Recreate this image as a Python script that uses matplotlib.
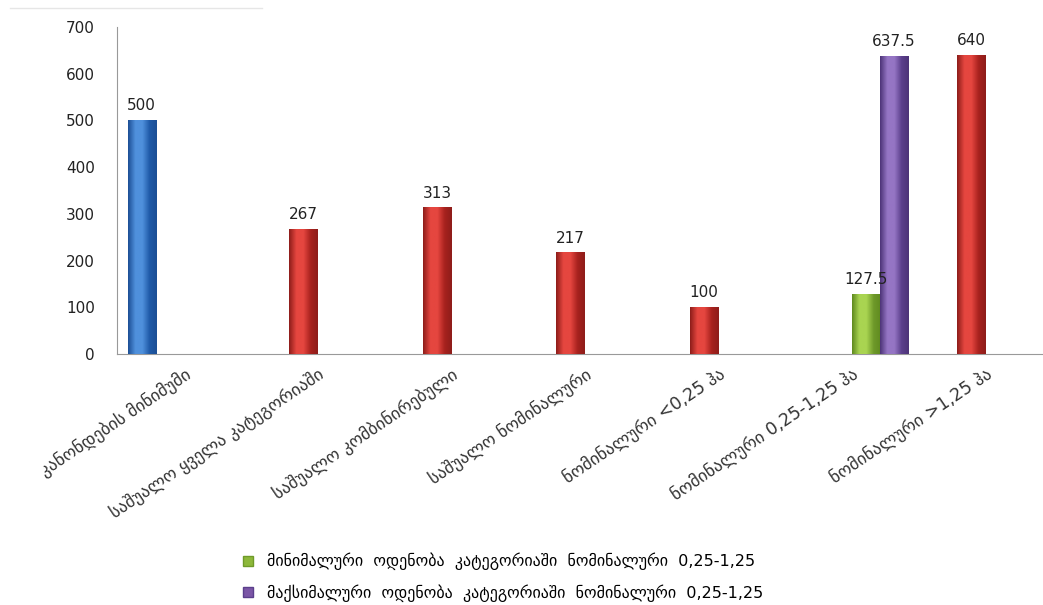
import numpy as np
import matplotlib.pyplot as plt
from matplotlib.colors import LinearSegmentedColormap
from matplotlib.lines import Line2D

categories = [
    "კანონდების მინიმუმი",
    "საშუალო ყველა კატეგორიაში",
    "საშუალო კომბინირებული",
    "საშუალო ნომინალური",
    "ნომინალური <0,25 ჰა",
    "ნომინალური 0,25-1,25 ჰა",
    "ნომინალური >1,25 ჰა",
]
blue_vals = [500, None, None, None, None, None, None]
red_vals = [None, 267, 313, 217, 100, None, 640]
green_vals = [None, None, None, None, None, 127.5, None]
purple_vals = [None, None, None, None, None, 637.5, None]
blue_labels = ["500"]
red_labels = ["267", "313", "217", "100", "640"]
green_labels = ["127.5"]
purple_labels = ["637.5"]

legend_names = [
    "მინიმალური  ოდენობა  კატეგორიაში  ნომინალური  0,25-1,25",
    "მაქსიმალური  ოდენობა  კატეგორიაში  ნომინალური  0,25-1,25",
]

plt.rcParams['font.family'] = ['DejaVu Sans']

fig = plt.figure(figsize=(10.43, 6.05), dpi=100)
ax = fig.add_axes([117 / 1043, 1 - 354 / 605, 935 / 1043, 327 / 605])

w = 0.21
x = np.arange(len(categories))
series = [
    (blue_vals, blue_labels, -1.5 * w, ('#1c4f95', '#4f90dc', '#1f5aa8')),
    (red_vals, red_labels, -0.5 * w, ('#8e1d1a', '#e5463f', '#a8221e')),
    (green_vals, green_labels, 0.5 * w, ('#5f8a1f', '#a9d451', '#6f9a2a')),
    (purple_vals, purple_labels, 1.5 * w, ('#4d3478', '#9575c4', '#5b3f8c')),
]


def shade(ax, patch, cols):
    cmap = LinearSegmentedColormap.from_list('c', [cols[0], cols[1], cols[1], cols[2], cols[0]])
    x0, y0 = patch.get_x(), patch.get_y()
    x1, y1 = x0 + patch.get_width(), y0 + patch.get_height()
    grad = np.linspace(0, 1, 64).reshape(1, -1)
    ax.imshow(grad, extent=[x0, x1, y0, y1], aspect='auto', cmap=cmap, zorder=3)


for vals, labs, off, cols in series:
    idx = [i for i, v in enumerate(vals) if v is not None]
    hs = [vals[i] for i in idx]
    bars = ax.bar(x[idx] + off, hs, width=w, color=cols[1], zorder=2)
    for b, lab in zip(bars, labs):
        shade(ax, b, cols)
        ax.annotate(lab, (b.get_x() + b.get_width() / 2, b.get_height()),
                    xytext=(0, 5), textcoords='offset points', ha='center', va='bottom',
                    fontsize=11, color='#222222', zorder=5)

ax.set_xlim(-0.5, len(categories) - 0.5)
ax.set_ylim(0, 700)
ax.set_yticks(range(0, 701, 100))
ax.tick_params(axis='y', length=0, pad=16, labelsize=11, labelcolor='#222222')
ax.set_xticks(x)
ax.set_xticklabels(categories, rotation=34, ha='right', rotation_mode='anchor', fontsize=12.5, color='#333333')
ax.tick_params(axis='x', length=0, pad=8)
for s in ['top', 'right']:
    ax.spines[s].set_visible(False)
ax.spines['left'].set_color('#999999')
ax.spines['bottom'].set_color('#999999')

handles = [
    Line2D([], [], marker='s', linestyle='none', markersize=7, markerfacecolor='#8db83a', markeredgecolor='#6f9a2a'),
    Line2D([], [], marker='s', linestyle='none', markersize=7, markerfacecolor='#7b56a6', markeredgecolor='#5b3f8c'),
]
fig.legend(handles, legend_names, loc='upper left', bbox_to_anchor=(222 / 1043, 1 - 543 / 605),
           frameon=False, fontsize=11.5, handletextpad=0.2, labelspacing=0.85,
           borderaxespad=0.2)

fig.add_artist(Line2D([10 / 1043, 262 / 1043], [1 - 8 / 605, 1 - 8 / 605], color='#e6e6e6', lw=1))

fig.savefig('out.png', dpi=100)
